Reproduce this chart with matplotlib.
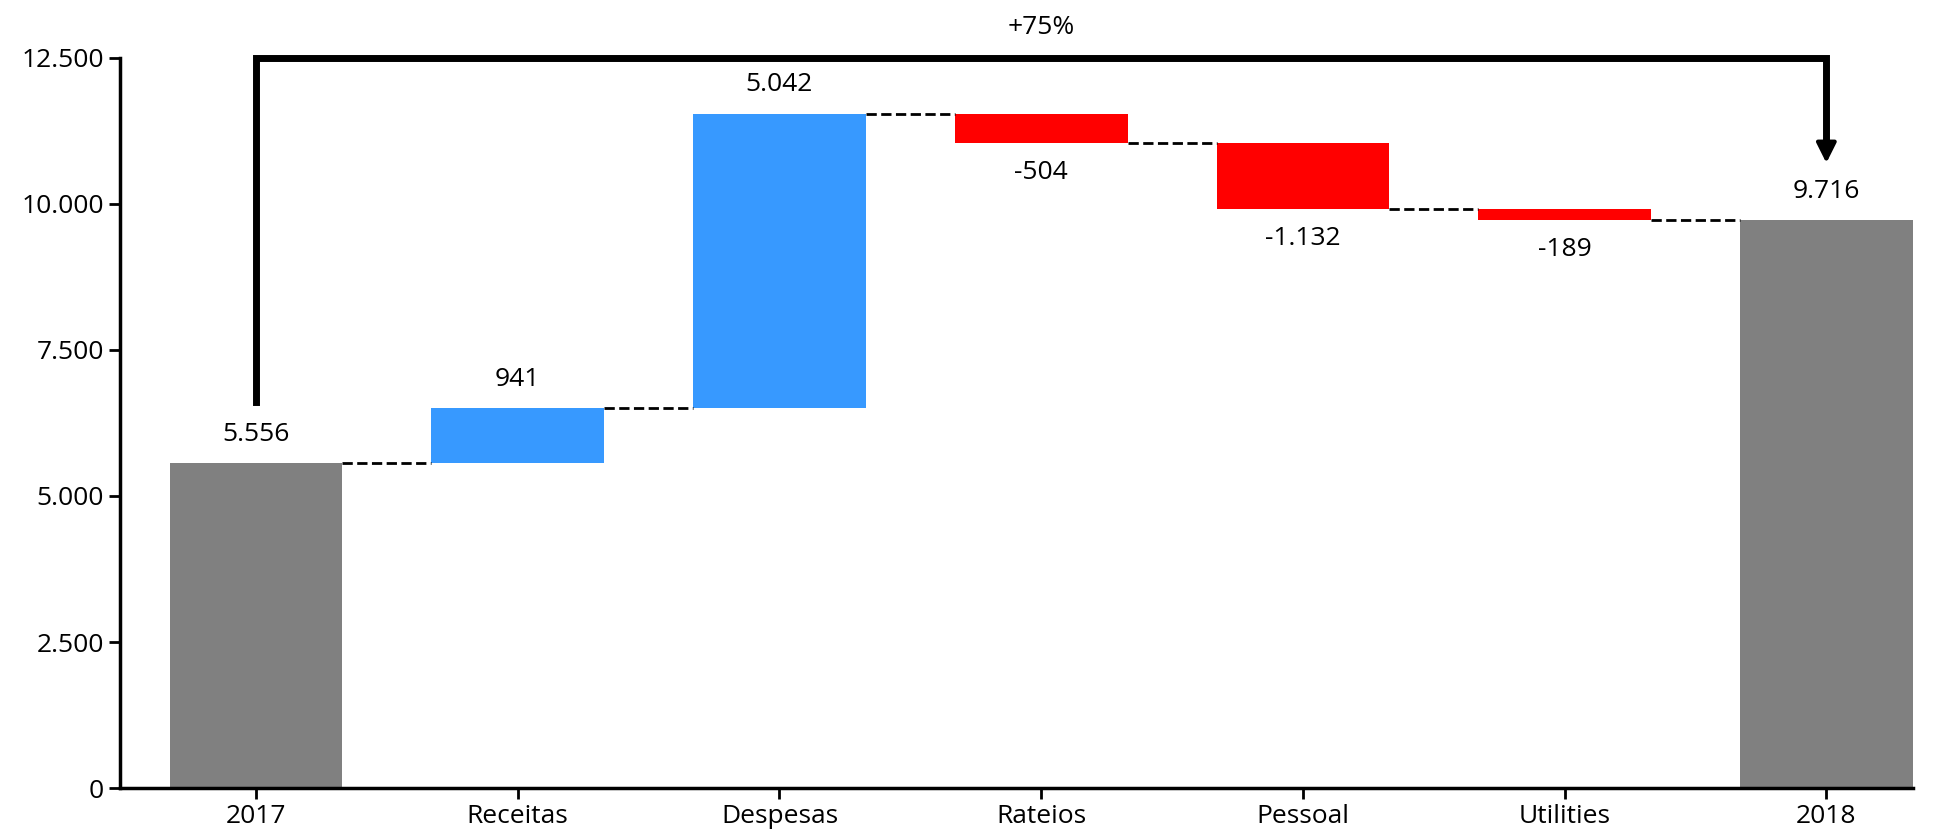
import matplotlib.pyplot as plt

plt.rcParams['font.family'] = ['Open Sans', 'DejaVu Sans']

categories = ['2017', 'Receitas', 'Despesas', 'Rateios', 'Pessoal', 'Utilities', '2018']
values = [5556, 941, 5042, -504, -1132, -189, 9716]
labels = ['5.556', '941', '5.042', '-504', '-1.132', '-189', '9.716']
yticks = [0, 2500, 5000, 7500, 10000, 12500]
yticklabels = ['0', '2.500', '5.000', '7.500', '10.000', '12.500']

fig = plt.figure(figsize=(19.34, 8.35), dpi=100)
ax = fig.add_axes([0.062, 0.056, 0.927, 0.91])

w = 0.66
fs = 19
level = 0
tops = []
for i, v in enumerate(values):
    if i == 0 or i == len(values) - 1:
        bottom, h, color = 0, v, '#808080'
        level = v
    else:
        bottom = level if v > 0 else level + v
        h = abs(v)
        color = '#3799ff' if v > 0 else '#ff0000'
        level += v
    ax.bar(i, h, bottom=bottom, width=w, color=color)
    if v >= 0:
        ax.text(i, bottom + h + 280, labels[i], ha='center', va='bottom', fontsize=fs)
    else:
        ax.text(i, bottom - 280, labels[i], ha='center', va='top', fontsize=fs)
    tops.append(level)

# dashed connectors
for i in range(len(values) - 1):
    ax.plot([i + w / 2, i + 1 - w / 2], [tops[i], tops[i]], 'k--', lw=2)

# growth arrow
ax.plot([0, 0, 6, 6], [6600, 12500, 12500, 10900], color='black', lw=5,
        solid_joinstyle='miter')
ax.annotate('', xy=(6, 10650), xytext=(6, 11000),
            arrowprops=dict(arrowstyle='-|>,head_width=0.6,head_length=1.2', color='black', lw=3))
ax.text(3, 12800, '+75%', ha='center', va='bottom', fontsize=fs)

ax.set_xlim(-0.52, 6.33)
ax.set_ylim(0, 13000)
ax.set_xticks(range(len(categories)))
ax.set_xticklabels(categories, fontsize=fs)
ax.set_yticks(yticks)
ax.set_yticklabels(yticklabels, fontsize=fs)
ax.spines['top'].set_visible(False)
ax.spines['right'].set_visible(False)
ax.spines['left'].set_bounds(0, 12500)
ax.spines['left'].set_linewidth(2.5)
ax.spines['bottom'].set_linewidth(2.5)
ax.tick_params(length=8, width=2)

fig.savefig('out.png')
